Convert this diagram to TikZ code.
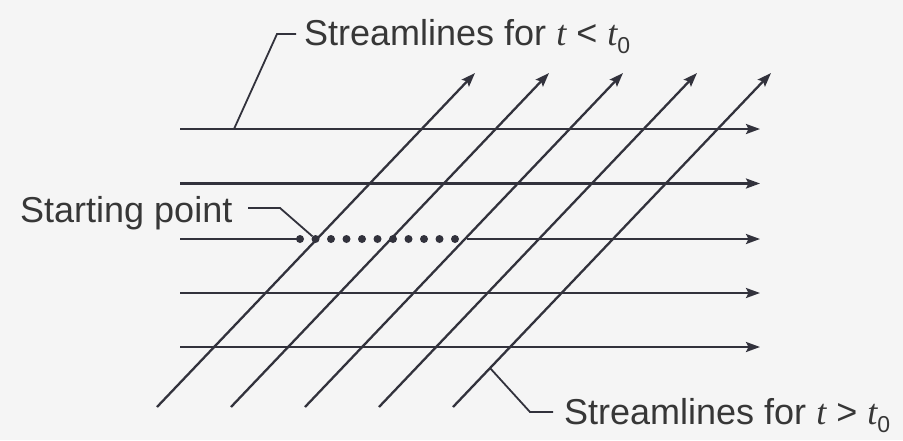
\documentclass[tikz,border=0pt]{standalone}
\usepackage{fontspec}
\setmainfont{Liberation Sans}
\newfontfamily\tfont{Liberation Serif}
\usetikzlibrary{arrows.meta}
\definecolor{bg}{RGB}{245,245,245}
\definecolor{ink}{RGB}{50,50,60}
\definecolor{txt}{RGB}{55,55,55}
\newcommand{\tvar}{{\tfont\itshape t}}
\newcommand{\tsub}{\raisebox{-8pt}{\fontsize{23}{23}\selectfont 0}}
\begin{document}
\begin{tikzpicture}[x=1pt,y=-1pt,
  sl/.style={draw=ink, line width=2.3pt},
  arr/.style={sl, -{Stealth[length=14pt,width=10pt,inset=2.5pt]}},
  lead/.style={draw=ink, line width=1.8pt},
  lbl/.style={text=txt, font=\fontsize{36}{40}\selectfont, inner sep=0pt, anchor=base west},
  dot/.style={circle, fill=ink, inner sep=0pt, minimum size=8pt}]
\fill[bg] (0,0) rectangle (903,440);
\useasboundingbox (0,0) rectangle (903,440);
% horizontal streamlines (t < t0)
\foreach \y/\n in {129/1,183.5/2,293/4,347/5}{
  \coordinate (h\n w) at (180,\y);
  \coordinate (h\n e) at (760,\y);
  \draw[arr] (h\n w) -- (h\n e);
}
% middle streamline with dotted part
\coordinate (h3w) at (180,239);
\coordinate (s0) at (300,239);
\coordinate (h3r) at (467,239);
\coordinate (h3e) at (760,239);
\draw[sl] (h3w) -- (s0);
\draw[arr] (h3r) -- (h3e);
% diagonal streamlines (t > t0)
\foreach \i in {0,...,4}{
  \coordinate (g\i s) at (157+74*\i,407);
  \coordinate (g\i e) at (475+74*\i,73);
  \draw[arr] (g\i s) -- (g\i e);
}
\foreach \k in {0,...,10}{
  \node[dot] (d\k) at (300+15.5*\k,239) {};
}
% labels
\node[lbl] (top) at (304,45) {Streamlines for \tvar{} < \tvar\tsub};
\node[lbl] (start) at (20,222) {Starting point};
\node[lbl] (bot) at (564,424) {Streamlines for \tvar{} > \tvar\tsub};
% leaders
\coordinate (tl1) at (234,129);
\coordinate (tlk) at (277,34);
\coordinate (tle) at (296,34);
\draw[lead] (tl1) -- (tlk) -- (tle);
\coordinate (sl1) at (248,208);
\coordinate (slk) at (280,208);
\draw[lead] (sl1) -- (slk) -- (d1);
\coordinate (bl1) at (490,368);
\coordinate (blk) at (530,412);
\coordinate (ble) at (553,412);
\draw[lead] (bl1) -- (blk) -- (ble);
\end{tikzpicture}
\end{document}
